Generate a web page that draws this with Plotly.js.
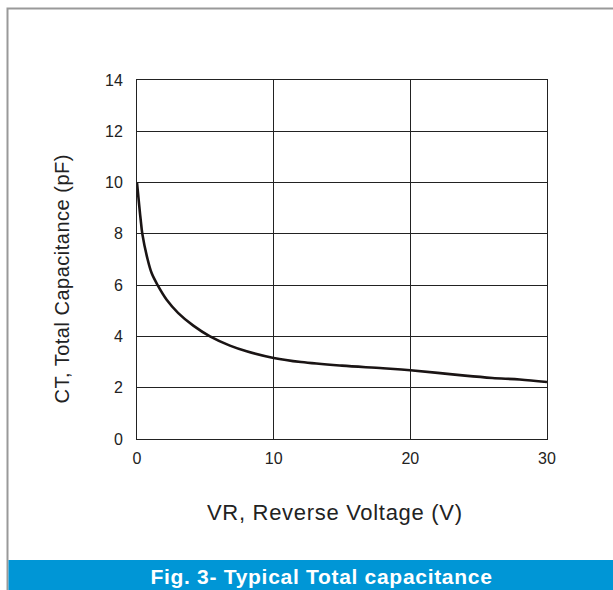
<!DOCTYPE html>
<html><head><meta charset="utf-8">
<script src="https://cdn.plot.ly/plotly-3.0.1.min.js"></script>
<style>html,body{margin:0;padding:0;background:#fff}#chart{width:613px;height:590px}</style>
</head><body><div id="chart"></div>
<script>
const voltage = [0, 0.17, 0.27, 0.39, 0.78, 1.07, 1.51, 2.17, 3.02, 4.12, 5.34, 6.8, 8.02, 10, 12, 15, 18, 20, 22, 24, 26, 28, 30];
const capacitance = [10, 9.06, 8.55, 8, 7, 6.47, 6, 5.43, 4.91, 4.42, 4, 3.64, 3.42, 3.16, 3.0, 2.86, 2.76, 2.68, 2.58, 2.47, 2.38, 2.32, 2.22];
const xTicks = [0, 10, 20, 30];
const yTicks = [0, 2, 4, 6, 8, 10, 12, 14];
const xTitle = 'VR, Reverse Voltage (V)';
const yTitle = 'CT, Total Capacitance (pF)';
const figTitle = 'Fig. 3- Typical Total capacitance';

const W = 410, H = 359, L = 137, T = 80;
const px = p => (p - L) / W;
const py = p => (T + H - p) / H;
const FONT = 'Liberation Sans, Arial, sans-serif';

const trace = {x: voltage, y: capacitance, mode: 'lines', line: {color: '#1a1414', width: 2.6, shape: 'spline', smoothing: 1}, hoverinfo: 'skip'};
function axis(extra) {
  return Object.assign({showline: true, linecolor: '#222', linewidth: 1, mirror: true, showgrid: true, gridcolor: '#222', gridwidth: 1, zeroline: false,
    ticks: 'outside', ticklen: 9, tickcolor: 'rgba(0,0,0,0)', tickfont: {family: FONT, size: 16, color: '#222'}, fixedrange: true}, extra);
}
const layout = {
  width: 613, height: 590,
  font: {family: FONT, size: 16, color: '#222'},
  margin: {l: L, r: 613 - L - W, t: T, b: 590 - T - H},
  paper_bgcolor: '#fff', plot_bgcolor: '#fff',
  showlegend: false,
  xaxis: axis({range: [0, 30], tickvals: xTicks, ticktext: xTicks.map(String), ticklen: 5}),
  yaxis: axis({range: [0, 14], tickvals: yTicks, ticktext: yTicks.map(String), ticklen: 10}),
  shapes: [
    {type: 'rect', xref: 'paper', yref: 'paper', x0: px(7.5), x1: px(640), y0: py(600), y1: py(8.5), line: {color: '#999', width: 2}, fillcolor: 'rgba(0,0,0,0)', layer: 'below'},
    {type: 'rect', xref: 'paper', yref: 'paper', x0: px(8.5), x1: px(640), y0: py(595), y1: py(560), line: {width: 0}, fillcolor: '#0096d6', layer: 'below'}
  ],
  annotations: [
    {xref: 'paper', yref: 'paper', x: px(335), y: py(512), xanchor: 'center', yanchor: 'middle', text: xTitle, showarrow: false, font: {family: FONT, size: 22, color: '#222'}},
    {xref: 'paper', yref: 'paper', x: px(62), y: py(279), xanchor: 'center', yanchor: 'middle', text: yTitle, textangle: -90, showarrow: false, font: {family: FONT, size: 20, color: '#222'}},
    {xref: 'paper', yref: 'paper', x: px(321), y: py(576), xanchor: 'center', yanchor: 'middle', text: '<b>' + figTitle + '</b>', showarrow: false, font: {family: FONT, size: 21, color: '#fff'}}
  ]
};
Plotly.newPlot('chart', [trace], layout, {staticPlot: true, displayModeBar: false}).then(function (gd) {
  const spacing = ['0.7px', '0.5px', '0.7px'];
  gd.querySelectorAll('.annotation-text').forEach(function (el, i) { el.style.letterSpacing = spacing[i] || '0px'; });
});
</script></body></html>
